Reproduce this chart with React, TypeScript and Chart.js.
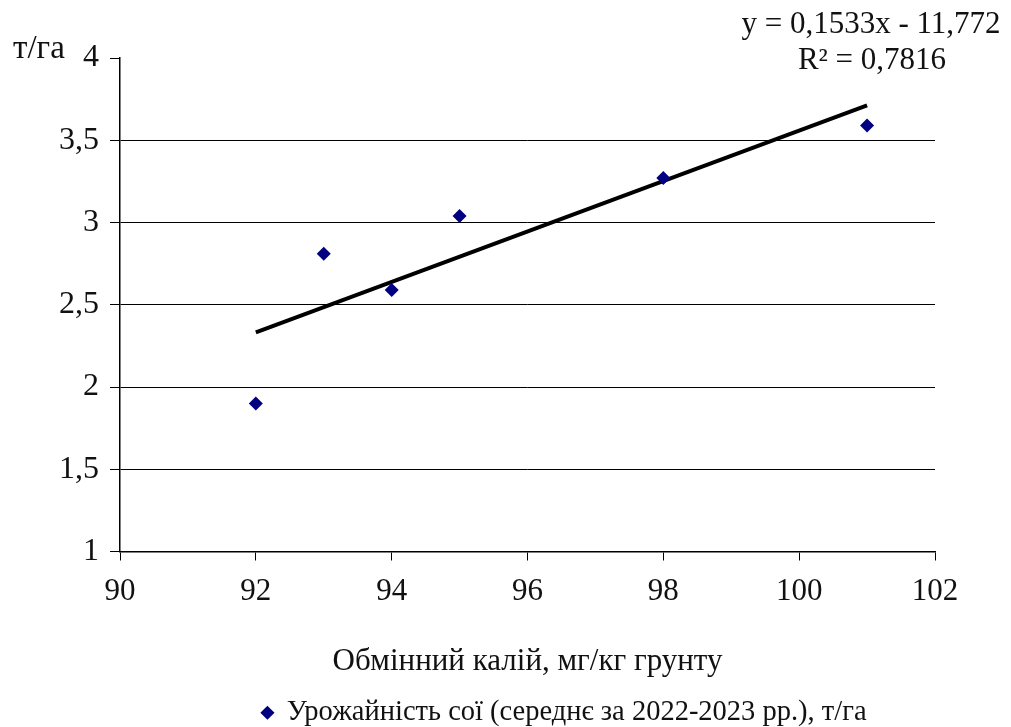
import React, { useEffect, useRef } from "react";
import { Chart, registerables } from "chart.js";

Chart.register(...registerables);

const potassium = [92, 93, 94, 95, 98, 101];
const yieldValues = [1.9, 2.81, 2.59, 3.04, 3.27, 3.59];
const trendSlope = 0.1533;
const trendIntercept = -11.772;
const rSquared = "0,7816";
const xTicks = [90, 92, 94, 96, 98, 100, 102];
const yTicks = [1, 1.5, 2, 2.5, 3, 3.5, 4];
const seriesLabel = "Урожайність сої (середнє за 2022-2023 рр.), т/га";
const xTitle = "Обмінний калій, мг/кг грунту";
const yUnit = "т/га";
const equationText = "y = 0,1533x - 11,772";

const FONT = "'Liberation Serif', 'Times New Roman', serif";
const LEGEND_SHIFT_X = 97;
const LEGEND_SHIFT_Y = 10;

export default function App() {
  const ref = useRef<HTMLCanvasElement | null>(null);
  useEffect(() => {
    if (!ref.current) return;
    const xMin = Math.min(...potassium);
    const xMax = Math.max(...potassium);
    const trend = [xMin, xMax].map((x) => ({ x, y: trendSlope * x + trendIntercept }));
    const textPlugin = {
      id: "texts",
      afterLayout(chart: any) {
        if (chart.legend) {
          chart.legend.left += LEGEND_SHIFT_X;
          chart.legend.right += LEGEND_SHIFT_X;
          chart.legend.top += LEGEND_SHIFT_Y;
          chart.legend.bottom += LEGEND_SHIFT_Y;
        }
      },
      afterDraw(chart: any) {
        const c = chart.ctx;
        c.save();
        c.fillStyle = "#111";
        c.textBaseline = "middle";
        c.font = `31px ${FONT}`;
        c.textAlign = "center";
        c.fillText(equationText, 871, 25);
        c.fillText(`R² = ${rSquared}`, 872, 61);
        c.font = `33px ${FONT}`;
        c.textAlign = "left";
        c.fillText(yUnit, 13, 49);
        c.restore();
      },
    };
    const chart = new Chart(ref.current, {
      type: "scatter",
      data: {
        datasets: [
          {
            label: seriesLabel,
            data: potassium.map((x, i) => ({ x, y: yieldValues[i] })),
            pointStyle: "rectRot",
            pointRadius: 7,
            backgroundColor: "#000080",
            borderColor: "#000080",
            borderWidth: 0,
          },
          {
            type: "line",
            label: "trend",
            data: trend,
            borderColor: "#000",
            borderWidth: 4,
            pointRadius: 0,
            showLine: true,
          } as any,
        ],
      },
      options: {
        animation: false,
        responsive: false,
        layout: { padding: { left: 0, top: 58, right: 76, bottom: 0 } },
        plugins: {
          tooltip: { enabled: false },
          legend: {
            position: "bottom",
            labels: {
              filter: (item: any) => item.text !== "trend",
              usePointStyle: true,
              pointStyle: "rectRot",
              boxWidth: 10,
              boxHeight: 10,
              padding: 0,
              color: "#111",
              font: { family: FONT, size: 28.5 },
            },
          },
        },
        scales: {
          x: {
            type: "linear",
            min: 90,
            max: 102,
            afterBuildTicks: (s: any) => {
              s.ticks = xTicks.map((v) => ({ value: v }));
            },
            afterFit: (s: any) => {
              s.height = 137;
            },
            ticks: {
              color: "#111",
              font: { family: FONT, size: 31 },
              padding: 13,
              maxRotation: 0,
            },
            grid: { drawOnChartArea: false, tickLength: 9, tickColor: "#000" },
            border: { color: "#000", width: 1.5 },
            title: {
              display: true,
              text: xTitle,
              color: "#111",
              font: { family: FONT, size: 31 },
              padding: { top: 28, bottom: 8 },
            },
          },
          y: {
            type: "linear",
            min: 1,
            max: 4,
            afterBuildTicks: (s: any) => {
              s.ticks = yTicks.map((v) => ({ value: v }));
            },
            afterFit: (s: any) => {
              s.width = 120;
            },
            ticks: {
              color: "#111",
              font: { family: FONT, size: 32 },
              padding: 11,
              callback: (v: any) => String(v).replace(".", ","),
            },
            grid: {
              color: (ctx: any) => (ctx.tick && ctx.tick.value === 4 ? "rgba(0,0,0,0)" : "#000"),
              tickColor: "#000",
              tickLength: 10,
              lineWidth: 1,
            },
            border: { color: "#000", width: 1.5 },
          },
        },
      },
      plugins: [textPlugin],
    });
    return () => chart.destroy();
  }, []);
  return (
    <div style={{ position: "absolute", left: 0, top: 0, width: 1011, height: 727, background: "#fff" }}>
      <canvas ref={ref} width={1011} height={727} />
    </div>
  );
}
